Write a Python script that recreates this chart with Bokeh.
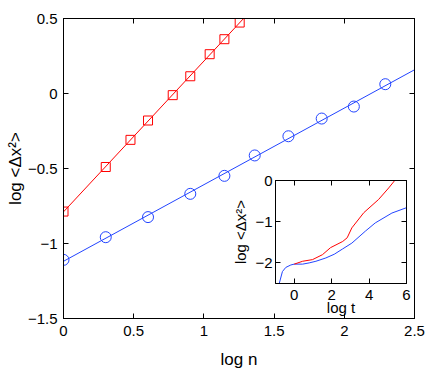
import numpy as np
from bokeh.plotting import figure
from bokeh.layouts import column
from bokeh.models import FixedTicker, LinearAxis, Range1d
from bokeh.embed import file_html
from bokeh.resources import INLINE

# ---- data ----
red_logn = [0.0, 0.301, 0.477, 0.602, 0.778, 0.903, 1.041, 1.146, 1.255]
red_msd = [-0.787, -0.49, -0.309, -0.18, -0.011, 0.115, 0.262, 0.362, 0.473]
blue_logn = [0.0, 0.301, 0.602, 0.903, 1.146, 1.362, 1.602, 1.839, 2.068, 2.292]
blue_msd = [-1.109, -0.958, -0.824, -0.669, -0.549, -0.413, -0.285, -0.167, -0.087, 0.062]

inset_blue_t = [-0.80, -0.63, -0.45, -0.18, 0.0, 0.45, 0.80, 1.16, 1.69, 2.14, 2.59, 3.08, 3.80, 4.33, 5.22, 6.0]
inset_blue_msd = [-2.5, -2.21, -2.11, -2.05, -2.03, -2.03, -2.0, -1.96, -1.88, -1.79, -1.66, -1.52, -1.23, -1.03, -0.79, -0.66]
inset_red_t = [0.0, 0.45, 0.98, 1.51, 1.94, 2.59, 2.83, 3.08, 3.72, 4.51, 5.05, 5.37]
inset_red_msd = [-2.03, -1.96, -1.92, -1.80, -1.63, -1.48, -1.39, -1.15, -0.78, -0.46, -0.18, 0.0]

main_xticks = [0, 0.5, 1, 1.5, 2, 2.5]
main_xlabels = ["0", "0.5", "1", "1.5", "2", "2.5"]
main_yticks = [-1.5, -1, -0.5, 0, 0.5]
main_ylabels = ["\u22121.5", "\u22121", "\u22120.5", "0", "0.5"]
inset_xticks = [0, 2, 4, 6]
inset_xlabels = ["0", "2", "4", "6"]
inset_yticks = [-2, -1, 0]
inset_ylabels = ["\u22122", "\u22121", "0"]

RED = "#ff0000"
BLUE = "#2244ff"
FONT = "Liberation Sans"


def style_axis(ax, ticks, labels, size, standoff, show_labels=True):
    ax.ticker = FixedTicker(ticks=ticks)
    ax.major_tick_in = 5
    ax.major_tick_out = 0
    ax.minor_tick_line_color = None
    ax.axis_line_color = "black"
    ax.major_tick_line_color = "black"
    ax.major_label_text_font = FONT
    ax.axis_label_text_font = FONT
    ax.axis_label_text_font_style = "normal"
    ax.axis_label_text_color = "black"
    if show_labels:
        ax.major_label_overrides = {float(t): l for t, l in zip(ticks, labels)}
        ax.major_label_text_color = "black"
        ax.major_label_text_font_size = size
        ax.major_label_standoff = standoff
    else:
        ax.major_label_text_color = None
        ax.major_label_text_font_size = "0px"
        ax.major_label_standoff = 0
        ax.axis_label_standoff = 0


# ---- main figure ----
p = figure(width=442, frame_height=300, x_range=Range1d(0, 2.5), y_range=Range1d(-1.5, 0.5),
           output_backend="svg", toolbar_location=None,
           min_border_left=69, min_border_right=14, min_border_top=18, min_border_bottom=48,
           margin=(0, 0, 0, -7))
p.grid.visible = False
p.outline_line_color = "black"
p.outline_line_width = 1

style_axis(p.xaxis[0], main_xticks, main_xlabels, "15px", 7)
style_axis(p.yaxis[0], main_yticks, main_ylabels, "15px", 6)
p.xaxis[0].axis_label = "log n"
p.yaxis[0].axis_label = "log <\u0394x\u00b2>"
p.xaxis[0].axis_label_text_font_size = "17px"
p.yaxis[0].axis_label_text_font_size = "17px"
p.xaxis[0].axis_label_standoff = 11
p.yaxis[0].axis_label_standoff = 0

top_ax = LinearAxis()
style_axis(top_ax, main_xticks, main_xlabels, "15px", 0, show_labels=False)
p.add_layout(top_ax, "above")
right_ax = LinearAxis()
style_axis(right_ax, main_yticks, main_ylabels, "15px", 0, show_labels=False)
p.add_layout(right_ax, "right")

# fitted straight lines through each series
x_line = np.array([p.x_range.start, p.x_range.end])
rc = np.polyfit(red_logn, red_msd, 1)
bc = np.polyfit(blue_logn, blue_msd, 1)
p.line(x_line, np.polyval(rc, x_line), line_color=RED, line_width=1)
p.line(x_line, np.polyval(bc, x_line), line_color=BLUE, line_width=1)
p.scatter(red_logn, red_msd, marker="square", size=9, fill_color=None, line_color=RED, line_width=1)
p.scatter(blue_logn, blue_msd, marker="circle", size=11, fill_color=None, line_color=BLUE, line_width=1)

# ---- inset ----
q = figure(frame_width=131, frame_height=103, x_range=Range1d(-1, 6), y_range=Range1d(-2.5, 0),
           output_backend="svg", toolbar_location=None,
           min_border_left=70, min_border_right=6, min_border_top=8, min_border_bottom=36,
           margin=(-199, 0, 0, 205))
q.grid.visible = False
q.border_fill_alpha = 0
q.background_fill_color = "white"
q.outline_line_color = "black"
q.outline_line_width = 1
style_axis(q.xaxis[0], inset_xticks, inset_xlabels, "15px", 6)
style_axis(q.yaxis[0], inset_yticks, inset_ylabels, "15px", 3)
q.xaxis[0].axis_label = "log t"
q.yaxis[0].axis_label = "log <\u0394x\u00b2>"
q.xaxis[0].axis_label_text_font_size = "15px"
q.yaxis[0].axis_label_text_font_size = "15px"
q.xaxis[0].axis_label_standoff = -4
q.yaxis[0].axis_label_standoff = 3
qt = LinearAxis()
style_axis(qt, inset_xticks, inset_xlabels, "15px", 0, show_labels=False)
q.add_layout(qt, "above")
qr = LinearAxis()
style_axis(qr, inset_yticks, inset_ylabels, "15px", 0, show_labels=False)
q.add_layout(qr, "right")
q.line(inset_blue_t, inset_blue_msd, line_color=BLUE, line_width=1)
q.line(inset_red_t, inset_red_msd, line_color=RED, line_width=1)

layout = column(p, q)
open("out.html", "w").write(file_html(layout, INLINE))
